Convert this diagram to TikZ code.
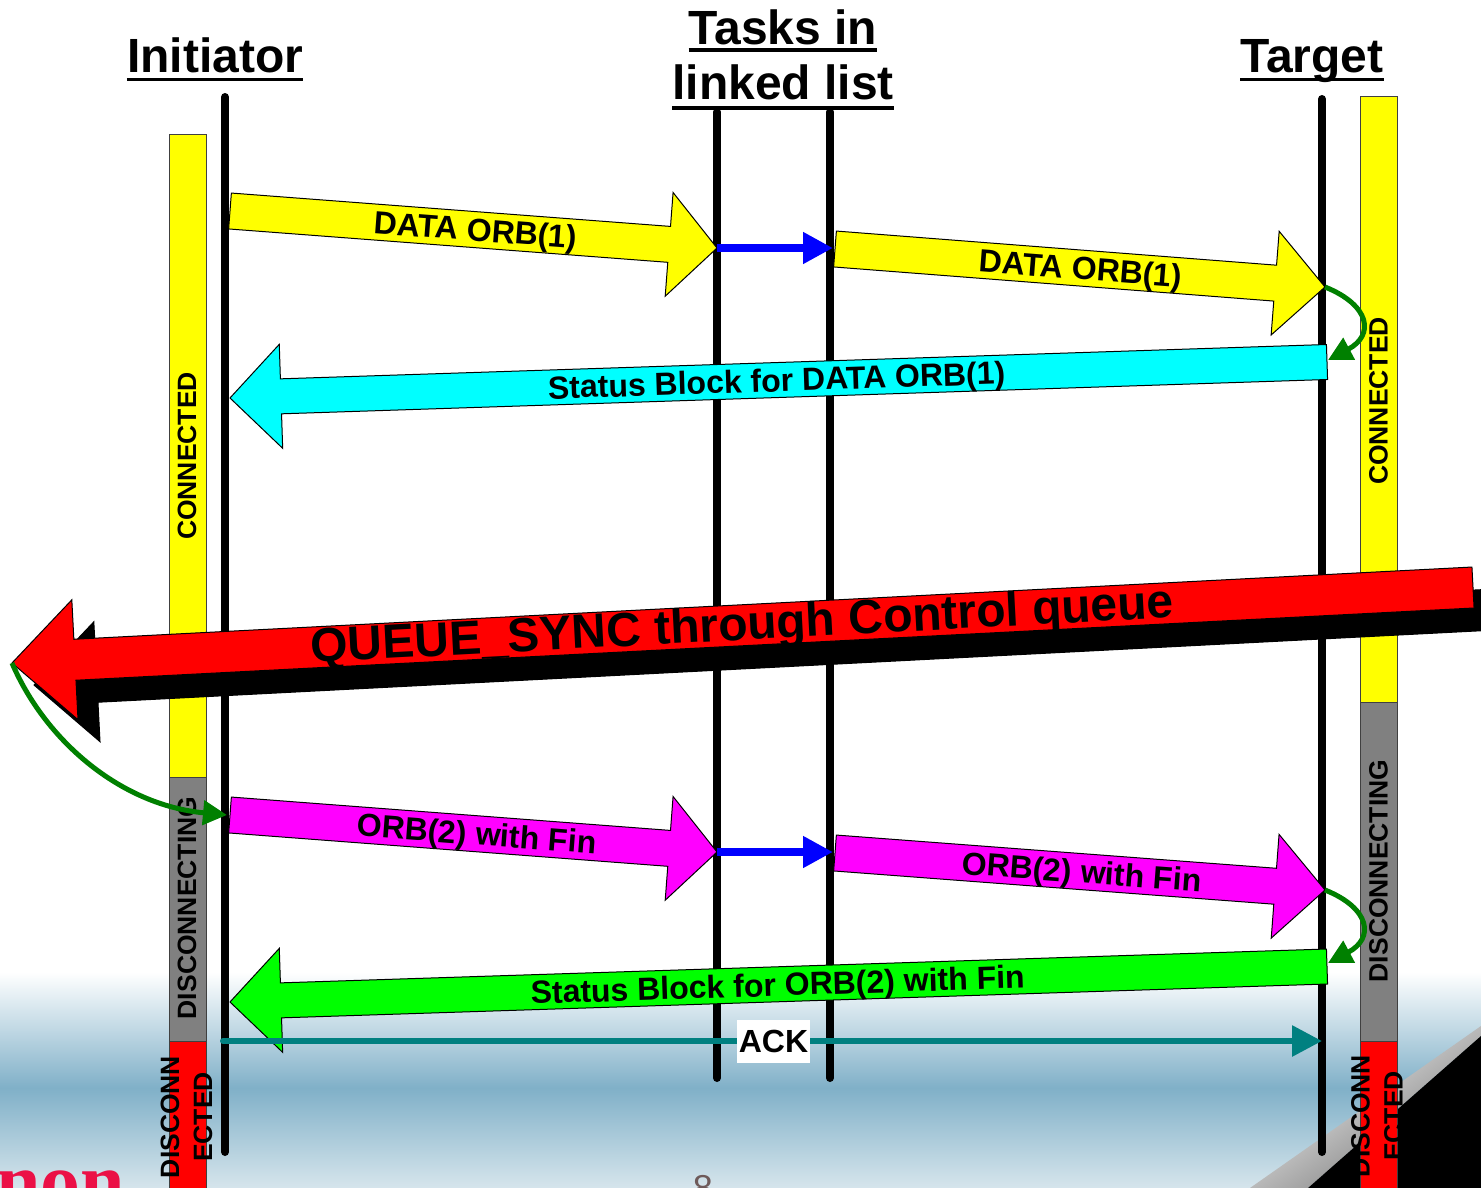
\documentclass[tikz,border=0pt]{standalone}
\usepackage{fontspec}
\setmainfont{Liberation Sans}
\newfontfamily\serifred{Liberation Serif}
\usetikzlibrary{calc,arrows.meta}
\definecolor{bgblue}{RGB}{128,176,200}
\definecolor{bgbluetwo}{RGB}{214,229,236}
\definecolor{curlgreen}{RGB}{0,128,0}
\definecolor{ackteal}{RGB}{0,128,128}
\definecolor{pgnum}{RGB}{110,90,90}
\definecolor{logored}{RGB}{235,16,70}
\definecolor{pyellow}{RGB}{255,255,0}
\definecolor{pcyan}{RGB}{0,255,255}
\definecolor{pmagenta}{RGB}{255,0,255}
\definecolor{pgreen}{RGB}{0,255,0}
\definecolor{pred}{RGB}{255,0,0}
\definecolor{pgray}{RGB}{128,128,128}
\definecolor{pblue}{RGB}{0,0,255}
\newcommand\FS[1]{\fontsize{#1}{#1}\selectfont}
\newcommand\BlkArrow[6]{%
  \coordinate (#1h) at ($(#2)!#5!(#1)$);
  \filldraw[fill=#6, draw=black, line width=1pt, line join=miter]
    ($(#1)!#3!90:(#2)$) -- ($(#1h)!#3!-90:(#1)$) -- ($(#1h)!#4!-90:(#1)$) -- (#2)
    -- ($(#1h)!#4!90:(#1)$) -- ($(#1h)!#3!90:(#1)$) -- ($(#1)!#3!-90:(#2)$) -- cycle;
}
\begin{document}
\begin{tikzpicture}[x=1pt,y=-1pt,
  lifeline/.style={line width=8pt, line cap=round},
  bar/.style={draw=black!75, line width=1pt},
  barlbl/.style={rotate=90, font=\FS{26.5}\bfseries, inner sep=0},
  arrlbl/.style={font=\FS{32}\bfseries, inner sep=0, anchor=base},
  title/.style={font=\FS{48}\bfseries, inner sep=0, anchor=base},
  uline/.style={line width=3.5pt},
  curl/.style={curlgreen, line width=5pt, -{Triangle[length=24pt,width=24pt]}},
  link/.style={pblue, line width=8pt, -{Triangle[length=30pt,width=30pt]}}]
\useasboundingbox (0,0) rectangle (1481,1188);
\clip (0,0) rectangle (1481,1188);
% background
\fill[white] (0,0) rectangle (1481,1188);
\shade[top color=white, bottom color=bgblue] (0,972) rectangle (1481,1088);
\shade[top color=bgblue, bottom color=bgbluetwo] (0,1088) rectangle (1481,1188);
% page curl
\shade[top color=white, bottom color=black!55, shading angle=35] (1250,1188) -- (1481,1026) -- (1481,1036) -- (1308,1188) -- cycle;
\fill[black] (1308,1188) -- (1481,1036) -- (1481,1188) -- cycle;
% logo fragment and page number
\node[font=\serifred\FS{80}\bfseries, text=logored, anchor=base west, inner sep=0] (logo) at (-4,1208) {non};
\node[font=\FS{36}, text=pgnum, anchor=base, inner sep=0] (pg) at (703,1200) {8};
% status bars
\filldraw[bar, fill=pyellow] (169,135) rectangle (206,777);
\filldraw[bar, fill=pgray] (169,777) rectangle (206,1041);
\filldraw[bar, fill=pred] (169,1041) rectangle (206,1200);
\filldraw[bar, fill=pyellow] (1360,97) rectangle (1397,702);
\filldraw[bar, fill=pgray] (1360,702) rectangle (1397,1041);
\filldraw[bar, fill=pred] (1360,1041) rectangle (1397,1200);
\node[barlbl] (lc) at (187,456) {CONNECTED};
\node[barlbl] (rc) at (1378.5,401) {CONNECTED};
\node[barlbl] (ld) at (187,908) {DISCONNECTING};
\node[barlbl] (rd) at (1378.5,871) {DISCONNECTING};
\node[barlbl, align=center, font=\fontsize{26.5}{33}\selectfont\bfseries] (ldc) at (186.5,1117) {DISCONN\\ECTED};
\node[barlbl, align=center, font=\fontsize{26.5}{33}\selectfont\bfseries] (rdc) at (1377,1116) {DISCONN\\ECTED};
% titles
\node[title] (tInit) at (215,73) {Initiator};
\draw[uline] ([yshift=-6.5pt]tInit.base west) -- ([yshift=-6.5pt]tInit.base east);
\node[title] (tTaskA) at (783,45) {Tasks in};
\draw[uline] ([yshift=-5pt]tTaskA.base west) -- ([yshift=-5pt]tTaskA.base east);
\node[title] (tTaskB) at (783,100) {linked list};
\draw[uline] ([yshift=-8pt]tTaskB.base west) -- ([yshift=-8pt]tTaskB.base east);
\node[title] (tTgt) at (1312,73) {Target};
\draw[uline] ([yshift=-6.5pt]tTgt.base west) -- ([yshift=-6.5pt]tTgt.base east);
% lifelines
\coordinate (iniTop) at (225,97);   \coordinate (iniBot) at (225,1152);
\coordinate (tkaTop) at (717,112);  \coordinate (tkaBot) at (717,1078);
\coordinate (tkbTop) at (830,112);  \coordinate (tkbBot) at (830,1078);
\coordinate (tgtTop) at (1322,99);  \coordinate (tgtBot) at (1322,1152);
\draw[lifeline] (iniTop) -- (iniBot);
\draw[lifeline] (tkaTop) -- (tkaBot);
\draw[lifeline] (tkbTop) -- (tkbBot);
\draw[lifeline] (tgtTop) -- (tgtBot);
% block arrows
\coordinate (aAt) at (230,211);     \coordinate (aAp) at (717,248);
\coordinate (aBt) at (835,249);     \coordinate (aBp) at (1325,287);
\coordinate (aCt) at (1327,362);    \coordinate (aCp) at (230,398);
\coordinate (aDt) at (1473,587.5);  \coordinate (aDp) at (12,663);
\coordinate (aSt) at (1495,609.5);  \coordinate (aSp) at (34,685);
\coordinate (aEt) at (230,815);     \coordinate (aEp) at (717,852);
\coordinate (aFt) at (835,853);     \coordinate (aFp) at (1325,890);
\coordinate (aGt) at (1327,966.5);  \coordinate (aGp) at (230,1002);
\BlkArrow{aAt}{aAp}{18pt}{52pt}{48pt}{pyellow}
\BlkArrow{aBt}{aBp}{18pt}{52pt}{50pt}{pyellow}
\BlkArrow{aCt}{aCp}{17.5pt}{52pt}{51pt}{pcyan}
\BlkArrow{aSt}{aSp}{20.5pt}{60pt}{63pt}{black}
\BlkArrow{aDt}{aDp}{20.5pt}{60pt}{63pt}{pred}
\BlkArrow{aEt}{aEp}{18pt}{52pt}{48pt}{pmagenta}
\BlkArrow{aFt}{aFp}{18pt}{52pt}{50pt}{pmagenta}
\BlkArrow{aGt}{aGp}{17.5pt}{52pt}{51pt}{pgreen}
% arrow labels
\node[arrlbl, rotate=-4.34] (lA) at (475,241) {DATA ORB(1)};
\node[arrlbl, rotate=-4.4] (lB) at (1080,279.5) {DATA ORB(1)};
\node[arrlbl, rotate=1.88] (lC) at (777,391.5) {Status Block for DATA ORB(1)};
\node[font=\FS{48}\bfseries, inner sep=0, anchor=base, rotate=3.0] (lD) at (743,640) {QUEUE\_SYNC through Control queue};
\node[arrlbl, rotate=-4.34] (lE) at (476,845) {ORB(2) with Fin};
\node[arrlbl, rotate=-4.3] (lF) at (1081,883) {ORB(2) with Fin};
\node[arrlbl, rotate=1.85] (lG) at (778,996) {Status Block for ORB(2) with Fin};
% task links
\coordinate (bAe) at (833,248);
\coordinate (bBe) at (833,852);
\draw[link] (aAp) -- (bAe);
\draw[link] (aEp) -- (bBe);
% green turn-around arrows
\coordinate (gAe) at (1328,360);
\coordinate (gBe) at (227,815);
\coordinate (gCe) at (1328,963);
\draw[curl] (aBp) .. controls (1370,305) and (1375,335) .. (gAe);
\draw[curl] (aDp) .. controls (45,740) and (120,805) .. (gBe);
\draw[curl] (aFp) .. controls (1370,908) and (1375,938) .. (gCe);
% ACK
\coordinate (ackS) at (223,1041);
\coordinate (ackE) at (1322,1041);
\draw[ackteal, line width=6pt, line cap=round, -{Triangle[length=30pt,width=30pt]}] (ackS) -- (ackE);
\node[fill=white, inner sep=0, minimum width=73pt, minimum height=43pt, font=\FS{32}\bfseries] (ack) at (773.5,1041.5) {ACK};
\end{tikzpicture}
\end{document}
